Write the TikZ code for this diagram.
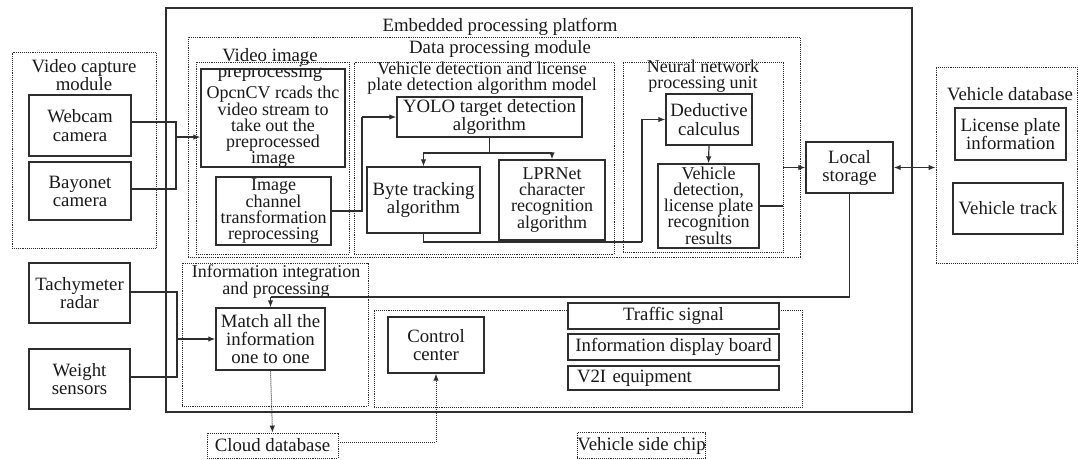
\documentclass[tikz,border=0pt]{standalone}
\usepackage{fontspec}
\setmainfont{Liberation Serif}
\usetikzlibrary{arrows.meta}
\definecolor{ln}{HTML}{2E2E2E}
\newcommand\fst[1]{\fontsize{18.8}{#1}\selectfont}
\newcommand\fsm[1]{\fontsize{18}{#1}\selectfont}
\begin{document}
\begin{tikzpicture}[x=1pt,y=-1pt,
  bx/.style={draw=ln, line width=1.4pt, inner sep=0pt, align=center, font=\fst{17}, text=black!90},
  dbx/.style={draw=ln, densely dotted, line width=0.9pt, inner sep=0pt, font=\fst{17}, text=black!90},
  ttl/.style={inner sep=0pt, align=center, font=\fst{17}, text=black!90},
  con/.style={draw=ln, line width=1.2pt},
  arr/.style={con, -{Latex[length=7pt,width=5.5pt]}},
  darr/.style={con, {Latex[length=7pt,width=5.5pt]}-{Latex[length=7pt,width=5.5pt]}},
  dotarr/.style={draw=ln, densely dotted, line width=1pt, -{Latex[length=7pt,width=5.5pt]}}]
\useasboundingbox (0,0) rectangle (1078,459);

% video capture module
\node[dbx, minimum width=144, minimum height=196] (vcm) at (84,150) {};
\node[ttl, font=\fst{17}] (vcmt) at (84,75) {Video capture\\module};
\node[bx, minimum width=102, minimum height=61, font=\fst{19}] (webcam) at (80,125.5) {Webcam\\camera};
\node[bx, minimum width=102, minimum height=58, font=\fst{18}] (bayonet) at (80,191) {Bayonet\\camera};

% embedded platform
\node[draw=ln, line width=1.5pt, inner sep=0pt, minimum width=746, minimum height=404] (emb) at (539,210) {};
\node[ttl, anchor=base] (embt) at (500,31) {Embedded processing platform};

\node[dbx, minimum width=612, minimum height=220] (dpm) at (494,147) {};
\node[ttl, anchor=base] (dpmt) at (500,53) {Data processing module};

% video image preprocessing
\node[dbx, minimum width=153, minimum height=192] (vip) at (272.5,158) {};
\node[ttl, font=\fst{17}] (vipt) at (270,65) {Video image\\preprocessing};
\node[bx, minimum width=144, minimum height=98] (opencv) at (273,118) {};
\node[ttl, font=\fsm{16}] (opencvt) at (273,126.5) {OpcnCV rcads thc\\video stream to\\take out the\\preprocessed\\image};
\node[bx, minimum width=115, minimum height=68, font=\fsm{16}] (imgchan) at (273.5,211) {Image\\channel\\transformation\\reprocessing};

% vehicle detection model
\node[dbx, minimum width=260, minimum height=192] (vdm) at (484,158) {};
\node[ttl, font=\fsm{16}] (vdmt) at (482,78) {Vehicle detection and license\\plate detection algorithm model};
\node[bx, minimum width=185, minimum height=40, font=\fst{16}] (yolo) at (489.5,117) {YOLO target detection\\algorithm};
\node[bx, minimum width=113, minimum height=66, font=\fst{16}] (byte) at (423.5,200) {Byte tracking\\algorithm};
\node[bx, minimum width=106, minimum height=80, font=\fsm{16}] (lpr) at (552,200) {LPRNet\\character\\recognition\\algorithm};

% neural network processing unit
\node[dbx, minimum width=160, minimum height=190] (nnpu) at (703,157) {};
\node[ttl, font=\fsm{16}] (nnput) at (703,76) {Neural network\\processing unit};
\node[bx, minimum width=86, minimum height=51, font=\fst{19}] (deduct) at (709,119.5) {Deductive\\calculus};
\node[bx, minimum width=101, minimum height=84, font=\fsm{16}] (vres) at (708.5,206) {Vehicle\\detection,\\license plate\\recognition\\results};

% local storage and vehicle database
\node[bx, minimum width=87, minimum height=51, font=\fst{18}] (local) at (849.5,167.5) {Local\\storage};
\node[dbx, minimum width=141, minimum height=196] (vdb) at (1006.5,165) {};
\node[ttl, anchor=base] (vdbt) at (1010,100) {Vehicle database};
\node[bx, minimum width=111, minimum height=52, font=\fst{18}] (lpinfo) at (1010.5,134) {License plate\\information};
\node[bx, minimum width=110, minimum height=51] (vtrack) at (1008,208.5) {Vehicle track};

% sensors
\node[bx, minimum width=101, minimum height=60, font=\fst{17}] (tachy) at (79.5,293) {Tachymeter\\radar};
\node[bx, minimum width=101, minimum height=60, font=\fst{18}] (weight) at (79.5,379) {Weight\\sensors};

% information integration
\node[dbx, minimum width=186, minimum height=143] (iip) at (275,334.5) {};
\node[ttl, font=\fsm{16}] (iipt) at (276,281.5) {Information integration\\and processing};
\node[bx, minimum width=109, minimum height=62, font=\fst{18}] (match) at (270.5,339) {Match all the\\information\\one to one};

% control area
\node[dbx, minimum width=428, minimum height=97] (ctrl) at (588,358.5) {};
\node[bx, minimum width=96, minimum height=56, font=\fst{18}] (cc) at (436,345) {Control\\center};
\node[bx, fill=white, minimum width=211, minimum height=26] (traffic) at (673.5,316) {Traffic signal};
\node[bx, fill=white, minimum width=211, minimum height=26] (idb) at (673.5,347) {Information display board};
\node[bx, fill=white, minimum width=211, minimum height=24, text width=193pt, align=left] (v2i) at (673.5,378) {V2I equipment};

% outside
\node[dbx, minimum width=131, minimum height=25] (cloud) at (272.5,445.5) {Cloud database};
\node[dbx, minimum width=123, minimum height=26] (chip) at (641.5,445.5) {Vehicle side chip};

% connectors
\coordinate (j1) at (176,137);
\draw[con] ([yshift=3.5pt]webcam.east) -| (j1) |- ([yshift=2pt]bayonet.east);
\draw[arr] (j1) -- (j1 -| opencv.west);

\coordinate (j2) at (362,117);
\draw[con] (imgchan.east) -| (j2);
\draw[arr] (j2) -- (yolo.west);

\coordinate (j3) at (489.5,153);
\draw[con] (yolo.south) -- (j3);
\draw[arr] (j3) -| (byte.north);
\draw[arr] (j3) -| (lpr.north);

\coordinate (j4) at (642,242);
\draw[con] (byte.south) |- (j4);
\draw[con] (lpr.south) -- (lpr.south |- j4);
\draw[arr] (j4) |- (deduct.west);

\draw[arr] (deduct.south) -- (vres.north);
\draw[con] (vres.east) -- (vres.east -| nnpu.east);
\draw[arr] (local.west -| nnpu.east) -- (local.west);
\draw[darr] (local.east) -- (local.east -| vdb.west);

\coordinate (j5) at (270.5,297);
\draw[con] (local.south) |- (j5);
\draw[arr] (j5) -- (match.north);

\coordinate (j6) at (177,339);
\draw[con] ([yshift=1pt]tachy.east) -| (j6) |- ([yshift=2pt]weight.east);
\draw[arr] (j6) -- (match.west);

\draw[dotarr] (match.south) -- (cloud.north);
\draw[dotarr] ([yshift=3pt]cloud.east) -| (cc.south);
\end{tikzpicture}
\end{document}
